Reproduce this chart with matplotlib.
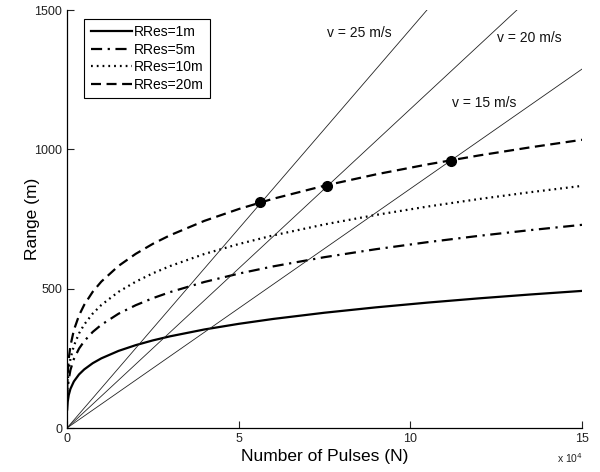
import matplotlib
matplotlib.use("Agg")
import matplotlib.pyplot as plt

# ---- data ----
pulses = [50, 200, 500, 1000, 2000, 3500, 5000, 7500, 10000, 15000, 20000, 25000,
          30000, 40000, 50000, 60000, 75000, 90000, 105000, 120000, 135000, 150000]
range_1m = [66.5, 94.0, 118.2, 140.6, 167.2, 192.3, 210.2, 232.7, 250.0, 276.7, 297.3, 314.4,
            329.0, 353.6, 373.8, 391.3, 413.7, 433.0, 450.0, 465.3, 479.2, 492.0]
range_5m = [98.6, 139.3, 175.2, 208.4, 247.8, 285.0, 311.5, 344.9, 370.5, 410.1, 440.6, 465.9,
            487.6, 524.0, 554.0, 579.9, 613.1, 641.7, 666.9, 689.6, 710.2, 729.1]
range_10m = [117.4, 166.0, 208.7, 248.3, 295.3, 339.6, 371.2, 410.9, 441.5, 488.7, 525.0, 555.2,
             581.0, 624.5, 660.1, 691.0, 730.6, 764.7, 794.7, 821.7, 846.3, 868.9]
range_20m = [139.8, 197.6, 248.5, 295.5, 351.5, 404.2, 441.8, 489.1, 525.5, 581.6, 624.9, 660.9,
             691.6, 743.3, 785.7, 822.5, 869.6, 910.2, 945.9, 978.1, 1007.3, 1034.2]
series_labels = ["RRes=1m", "RRes=5m", "RRes=10m", "RRes=20m"]

speed_labels = ["v = 25 m/s", "v = 20 m/s", "v = 15 m/s"]
speed_line_x = [0, 150000]
speed_line_y = [[0, 2146], [0, 1717], [0, 1288]]
speed_label_x = [75700, 125200, 112100]
speed_label_y = [1417, 1399, 1166]

dot_x = [56200, 75800, 111700]
dot_y = [810, 870, 958]

xticks = [0, 50000, 100000, 150000]
xtick_labels = ["0", "5", "10", "15"]
yticks = [0, 500, 1000, 1500]

# ---- figure ----
plt.rcParams['font.family'] = ['Liberation Sans', 'DejaVu Sans']
fig = plt.figure(figsize=(6.0, 4.72), dpi=100)
ax = fig.add_axes([0.1117, 0.0932, 0.8583, 0.8856])

lw = 1.6
ax.plot(pulses, range_1m, color='black', lw=lw, linestyle='-', label=series_labels[0])
ax.plot(pulses, range_5m, color='black', lw=lw, linestyle=(0, (5, 2.5, 1, 2.5)), label=series_labels[1])
ax.plot(pulses, range_10m, color='black', lw=lw, linestyle=(0, (0.8, 1.8)), label=series_labels[2])
ax.plot(pulses, range_20m, color='black', lw=lw, linestyle=(0, (4.5, 2.5)), label=series_labels[3])

for ys, lab, tx, ty in zip(speed_line_y, speed_labels, speed_label_x, speed_label_y):
    ax.plot(speed_line_x, ys, color='#222222', lw=0.6)
    ax.text(tx, ty, lab, fontsize=10, ha='left', va='center', color='#111111')

ax.plot(dot_x, dot_y, 'o', color='black', markersize=7, linestyle='none')

ax.set_xlim(0, 150000)
ax.set_ylim(0, 1500)
ax.set_xticks(xticks)
ax.set_xticklabels(xtick_labels)
ax.set_yticks(yticks)
ax.tick_params(direction='in', length=5, width=0.8, labelsize=9, colors='#222222')
for s in ['top', 'right']:
    ax.spines[s].set_visible(False)
for s in ['left', 'bottom']:
    ax.spines[s].set_linewidth(0.9)

ax.set_xlabel("Number of Pulses (N)", fontsize=12.5, labelpad=3)
ax.set_ylabel("Range (m)", fontsize=12.5, labelpad=-4)
fig.text(0.928, 0.02, r"x 10$^4$", fontsize=7.5, color='#222222')

leg = ax.legend(loc='upper left', bbox_to_anchor=(0.02, 0.995), fontsize=10,
                handlelength=3.0, handletextpad=0.1, borderpad=0.45, labelspacing=0.25,
                fancybox=False, edgecolor='black', framealpha=1)
leg.get_frame().set_linewidth(0.8)

fig.savefig("out.png", dpi=100)
